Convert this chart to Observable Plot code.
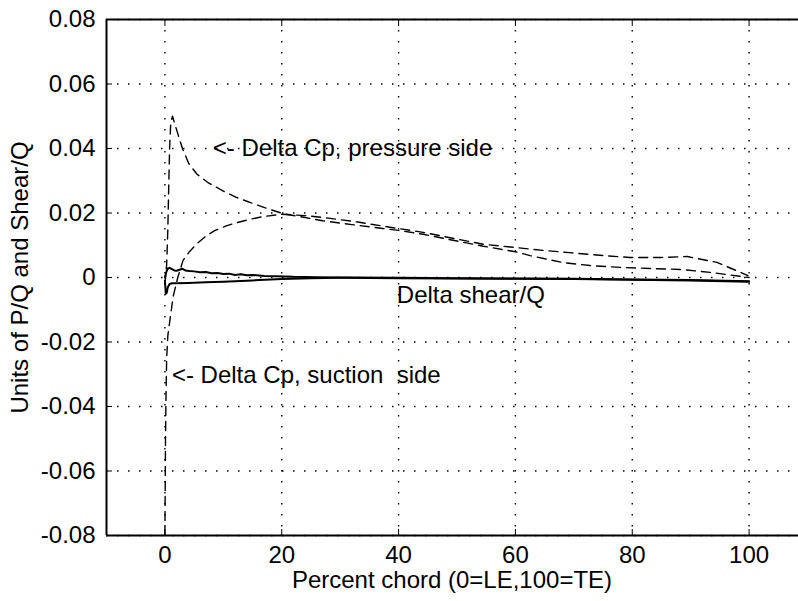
<!DOCTYPE html>
<html>
<head>
<meta charset="utf-8">
<script src="https://cdn.jsdelivr.net/npm/d3@7"></script>
<script src="https://cdn.jsdelivr.net/npm/@observablehq/plot@0.6"></script>
<style>
  html, body { margin: 0; padding: 0; background: #fff; overflow: hidden; width: 798px; }
  #chart { width: 798px; height: 601px; overflow: hidden; position: relative; }
  #chart svg { max-width: none !important; display: block; overflow: hidden; }
</style>
</head>
<body>
<div id="chart"></div>
<script>
// ---- data ----
const xDomain = [-10, 110];
const yDomain = [-0.08, 0.08];
const xTicks = [0, 20, 40, 60, 80, 100];
const yTicks = [-0.08, -0.06, -0.04, -0.02, 0, 0.02, 0.04, 0.06, 0.08];

const pressureX = [0, 0.3, 0.5, 0.65, 0.8, 1.0, 1.3, 2.2, 3.0, 4.1, 5.5, 7.4, 10, 12.3, 15, 17.5, 20.2, 24, 27, 32, 37.3, 40, 44.2, 50, 54.5, 60, 62.5, 68.2, 72.8, 78.4, 83, 88.2, 93.3, 100];
const pressureY = [-0.002, 0.004, 0.015, 0.028, 0.040, 0.048, 0.050, 0.0446, 0.040, 0.0353, 0.032, 0.0294, 0.0268, 0.0248, 0.023, 0.0214, 0.0198, 0.0186, 0.0176, 0.0164, 0.0152, 0.0146, 0.0134, 0.0113, 0.0097, 0.0080, 0.0068, 0.0046, 0.0037, 0.0031, 0.0028, 0.0025, 0.0016, 0.0];

const suctionX = [0, 0.05, 0.1, 0.2, 0.3, 0.5, 0.8, 1.1, 1.4, 2.2, 3.1, 4.2, 5.5, 7, 8.6, 10.5, 12.3, 14.5, 16.8, 20, 24, 28, 33, 38.5, 44.2, 50, 54.5, 60, 64.7, 69.3, 75, 79.6, 84.8, 89.4, 94.5, 99.8];
const suctionY = [-0.08, -0.065, -0.05, -0.035, -0.025, -0.018, -0.014, -0.010, -0.006, 0.0, 0.0053, 0.008, 0.0105, 0.0128, 0.0146, 0.016, 0.017, 0.018, 0.0189, 0.0196, 0.0192, 0.0184, 0.0172, 0.0156, 0.014, 0.0119, 0.0103, 0.0093, 0.0084, 0.0077, 0.0068, 0.0062, 0.0062, 0.0065, 0.0047, 0.0006];

const shearUpperX = [0, 0.2, 0.5, 0.8, 1.2, 1.6, 2.0, 2.5, 3.0, 3.5, 4.2, 5, 6, 7, 8, 9, 10, 11, 12, 13, 14, 15, 17, 19, 22, 26, 30, 40, 50, 60, 70, 80, 90, 100];
const shearUpperY = [0, 0.0015, 0.0028, 0.003, 0.0026, 0.0022, 0.0021, 0.0024, 0.0027, 0.0022, 0.002, 0.0019, 0.0016, 0.0017, 0.0013, 0.0014, 0.0011, 0.0012, 0.0008, 0.001, 0.0007, 0.0008, 0.0005, 0.0004, 0.0002, 0.0001, 0.0, -0.0001, -0.0002, -0.0003, -0.0004, -0.0006, -0.0008, -0.0012];

const shearLowerX = [0, 0.15, 0.3, 0.5, 0.8, 1.2, 2, 4, 7, 10, 15, 20, 25, 30, 40, 50, 60, 70, 80, 90, 100];
const shearLowerY = [-0.001, -0.005, -0.0048, -0.003, -0.002, -0.0018, -0.0018, -0.0017, -0.0015, -0.0013, -0.0009, -0.0005, -0.0002, -0.0001, -0.0002, -0.0003, -0.0004, -0.0005, -0.0007, -0.0009, -0.0013];

const annoText = ["<- Delta Cp, pressure side", "Delta shear/Q", "<- Delta Cp, suction\u00a0 side"];
const annoX = [8.2, 39.7, 1.2];
const annoY = [0.040, -0.0056, -0.0303];

const xLabel = "Percent chord (0=LE,100=TE)";
const yLabel = "Units of P/Q and Shear/Q";

// ---- build tables ----
const toPts = (xs, ys) => xs.map((x, i) => ({x, y: ys[i]}));
const pressure = toPts(pressureX, pressureY);
const suction = toPts(suctionX, suctionY);
const shearUp = toPts(shearUpperX, shearUpperY);
const shearLo = toPts(shearLowerX, shearLowerY);
const annos = annoText.map((t, i) => ({t, x: annoX[i], y: annoY[i]}));

const FONT = "'Liberation Sans', Arial, Helvetica, sans-serif";
const FS = 24;
const dash = "9,6";
const yFmt = d => d === 0 ? "0" : d.toFixed(2);

const chart = Plot.plot({
  width: 798,
  height: 601,
  marginLeft: 106,
  marginRight: -9,
  marginTop: 19,
  marginBottom: 66,
  style: {fontFamily: FONT, fontSize: FS + "px", color: "black", background: "white", maxWidth: "none", overflow: "hidden"},
  x: {domain: xDomain, axis: null},
  y: {domain: yDomain, axis: null},
  marks: [
    Plot.gridX(xTicks, {stroke: "black", strokeOpacity: 1, strokeWidth: 1.4, strokeDasharray: "1.5,9.5"}),
    Plot.gridY(yTicks, {stroke: "black", strokeOpacity: 1, strokeWidth: 1.4, strokeDasharray: "1.5,9.5"}),
    Plot.axisX(xTicks, {anchor: "bottom", tickSize: -6, tickPadding: 16, fontSize: FS, label: null, tickFormat: d => String(d)}),
    Plot.axisX(xTicks, {anchor: "top", tickSize: -6, fontSize: FS, label: null, tickFormat: () => ""}),
    Plot.axisY(yTicks, {anchor: "left", tickSize: -6, tickPadding: 17, fontSize: FS, label: null, tickFormat: yFmt}),
    Plot.line(pressure, {x: "x", y: "y", stroke: "black", strokeWidth: 1.4, strokeDasharray: dash}),
    Plot.line(suction, {x: "x", y: "y", stroke: "black", strokeWidth: 1.4, strokeDasharray: dash}),
    Plot.line(shearUp, {x: "x", y: "y", stroke: "black", strokeWidth: 2}),
    Plot.line(shearLo, {x: "x", y: "y", stroke: "black", strokeWidth: 2}),
    Plot.text(annos, {x: "x", y: "y", text: "t", textAnchor: "start", fontSize: FS, fill: "black"}),
    Plot.text([xLabel], {text: d => d, frameAnchor: "bottom", textAnchor: "middle", lineAnchor: "middle", dy: 45, dx: -5, fontSize: FS, fill: "black"}),
    Plot.text([yLabel], {text: d => d, frameAnchor: "left", textAnchor: "middle", lineAnchor: "middle", dx: -86, rotate: -90, fontSize: FS, fill: "black"}),
    Plot.ruleY(yDomain, {stroke: "black", strokeWidth: 2}),
    Plot.ruleX([xDomain[0]], {stroke: "black", strokeWidth: 2})
  ]
});
document.getElementById("chart").appendChild(chart);
</script>
</body>
</html>
